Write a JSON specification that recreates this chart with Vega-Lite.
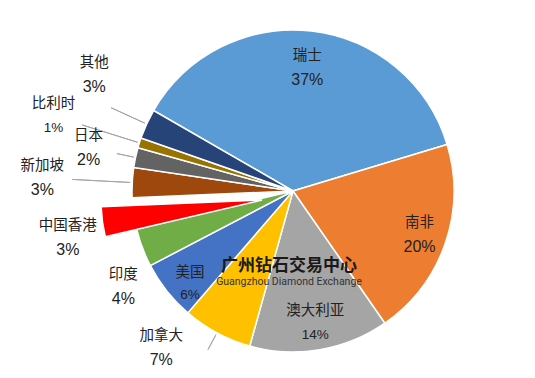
{
  "$schema": "https://vega.github.io/schema/vega-lite/v6.json",
  "width": 484,
  "height": 376,
  "autosize": "none",
  "padding": {"left": 51, "top": 3, "right": 0, "bottom": 0},
  "background": "white",
  "config": {"view": {"stroke": null}},
  "title": {
    "text": "广州钻石交易中心",
    "subtitle": "Guangzhou Diamond Exchange",
    "orient": "bottom",
    "anchor": "middle",
    "offset": -121,
    "dx": -4,
    "font": "Noto Sans CJK SC",
    "fontSize": 17,
    "fontWeight": "bold",
    "color": "#1a1a1a",
    "subtitleFont": "Roboto",
    "subtitleFontSize": 10.5,
    "subtitleColor": "#333333",
    "subtitlePadding": 2
  },
  "data": {
    "values": [
      {"country": "瑞士", "value": 37},
      {"country": "南非", "value": 20},
      {"country": "澳大利亚", "value": 14},
      {"country": "加拿大", "value": 7},
      {"country": "美国", "value": 6},
      {"country": "印度", "value": 4},
      {"country": "中国香港", "value": 3},
      {"country": "新加坡", "value": 3},
      {"country": "日本", "value": 2},
      {"country": "比利时", "value": 1},
      {"country": "其他", "value": 3}
    ]
  },
  "transform": [
    {"window": [{"op": "sum", "field": "value", "as": "cum"}], "frame": [null, 0]},
    {"calculate": "datum.cum - datum.value", "as": "start"},
    {"calculate": "datum.cum - datum.value / 2", "as": "mid"},
    {"calculate": "datum.value + '%'", "as": "pct"}
  ],
  "layer": [
    {
      "transform": [{"filter": "datum.country !== '中国香港'"}],
      "mark": {"type": "arc", "radius": 161, "stroke": "white", "strokeWidth": 1.5},
      "encoding": {
        "theta": {"field": "start", "type": "quantitative", "stack": null, "scale": {"domain": [0, 100], "range": [-1.0471976, 5.2359878]}},
        "theta2": {"field": "cum"},
        "color": {
          "field": "country", "type": "nominal", "legend": null,
          "scale": {
            "domain": ["瑞士", "南非", "澳大利亚", "加拿大", "美国", "印度", "中国香港", "新加坡", "日本", "比利时", "其他"],
            "range": ["#5B9BD5", "#ED7D31", "#A5A5A5", "#FFC000", "#4472C4", "#70AD47", "#FF0000", "#9E480E", "#636363", "#997300", "#264478"]
          }
        }
      }
    },
    {
      "transform": [{"filter": "datum.country === '中国香港'"}],
      "mark": {"type": "arc", "radius": 161, "stroke": "white", "strokeWidth": 1.5, "xOffset": -31, "yOffset": 9},
      "encoding": {
        "theta": {"field": "start", "type": "quantitative", "stack": null},
        "theta2": {"field": "cum"},
        "color": {"field": "country", "type": "nominal", "legend": null}
      }
    },
    {
      "transform": [{"filter": "indexof(['比利时','新加坡'], datum.country) >= 0"}],
      "mark": {"type": "arc", "radius": 221, "radius2": 163, "stroke": "#A6A6A6", "strokeWidth": 1, "fillOpacity": 0},
      "encoding": {
        "theta": {"field": "mid", "type": "quantitative", "stack": null},
        "theta2": {"field": "mid"}
      }
    },
    {
      "transform": [{"filter": "datum.country === '其他'"}],
      "mark": {"type": "arc", "radius": 200, "radius2": 163, "stroke": "#A6A6A6", "strokeWidth": 1, "fillOpacity": 0},
      "encoding": {
        "theta": {"field": "mid", "type": "quantitative", "stack": null},
        "theta2": {"field": "mid"}
      }
    },
    {
      "transform": [{"filter": "indexof(['日本','加拿大'], datum.country) >= 0"}],
      "mark": {"type": "arc", "radius": 180, "radius2": 163, "stroke": "#A6A6A6", "strokeWidth": 1, "fillOpacity": 0},
      "encoding": {
        "theta": {"field": "mid", "type": "quantitative", "stack": null},
        "theta2": {"field": "mid"}
      }
    },
    {
      "transform": [{"filter": "datum.country === '瑞士'"}],
      "layer": [
        {
          "mark": {"type": "text", "radius": 124, "dy": -12, "font": "Noto Sans CJK SC", "fontSize": 14.5, "fill": "#222222"},
          "encoding": {"theta": {"field": "mid", "type": "quantitative"}, "text": {"field": "country"}}
        },
        {
          "mark": {"type": "text", "radius": 124, "dy": 12, "font": "Liberation Sans", "fontSize": 16, "fill": "#222222"},
          "encoding": {"theta": {"field": "mid", "type": "quantitative"}, "text": {"field": "pct"}}
        }
      ]
    },
    {
      "transform": [{"filter": "indexof(['南非','澳大利亚'], datum.country) >= 0"}],
      "layer": [
        {
          "mark": {"type": "text", "radius": 134, "dy": -12, "font": "Noto Sans CJK SC", "fontSize": 14.5, "fill": "#222222"},
          "encoding": {"theta": {"field": "mid", "type": "quantitative"}, "text": {"field": "country"}}
        },
        {
          "mark": {"type": "text", "radius": 134, "dy": 12, "font": "Liberation Sans", "fill": "#222222"},
          "encoding": {
            "theta": {"field": "mid", "type": "quantitative"},
            "text": {"field": "pct"},
            "size": {"condition": {"test": "datum.country === '澳大利亚'", "value": 13.5}, "value": 16}
          }
        }
      ]
    },
    {
      "transform": [{"filter": "datum.country === '美国'"}],
      "layer": [
        {
          "mark": {"type": "text", "radius": 139, "thetaOffset": -0.065, "dy": -11, "font": "Noto Sans CJK SC", "fontSize": 14.5, "fill": "#222222"},
          "encoding": {"theta": {"field": "mid", "type": "quantitative"}, "text": {"field": "country"}}
        },
        {
          "mark": {"type": "text", "radius": 139, "thetaOffset": -0.065, "dy": 11, "font": "Liberation Sans", "fontSize": 13.5, "fill": "#222222"},
          "encoding": {"theta": {"field": "mid", "type": "quantitative"}, "text": {"field": "pct"}}
        }
      ]
    },
    {
      "transform": [{"filter": "indexof(['比利时','新加坡'], datum.country) >= 0"}],
      "layer": [
        {
          "mark": {"type": "text", "radius": 251, "dy": -12, "font": "Noto Sans CJK SC", "fontSize": 14.5, "fill": "#222222"},
          "encoding": {"theta": {"field": "mid", "type": "quantitative"}, "text": {"field": "country"}}
        },
        {
          "mark": {"type": "text", "radius": 251, "dy": 12, "font": "Liberation Sans", "fill": "#222222"},
          "encoding": {
            "theta": {"field": "mid", "type": "quantitative"},
            "text": {"field": "pct"},
            "size": {"condition": {"test": "datum.country === '比利时'", "value": 13.5}, "value": 16}
          }
        }
      ]
    },
    {
      "transform": [{"filter": "datum.country === '日本'"}],
      "layer": [
        {
          "mark": {"type": "text", "radius": 209, "dy": -12, "font": "Noto Sans CJK SC", "fontSize": 14.5, "fill": "#222222"},
          "encoding": {"theta": {"field": "mid", "type": "quantitative"}, "text": {"field": "country"}}
        },
        {
          "mark": {"type": "text", "radius": 209, "dy": 12, "font": "Liberation Sans", "fontSize": 16, "fill": "#222222"},
          "encoding": {"theta": {"field": "mid", "type": "quantitative"}, "text": {"field": "pct"}}
        }
      ]
    },
    {
      "transform": [{"filter": "datum.country === '其他'"}],
      "layer": [
        {
          "mark": {"type": "text", "radius": 230, "thetaOffset": 0.098, "dy": -12, "font": "Noto Sans CJK SC", "fontSize": 14.5, "fill": "#222222"},
          "encoding": {"theta": {"field": "mid", "type": "quantitative"}, "text": {"field": "country"}}
        },
        {
          "mark": {"type": "text", "radius": 230, "thetaOffset": 0.098, "dy": 12, "font": "Liberation Sans", "fontSize": 16, "fill": "#222222"},
          "encoding": {"theta": {"field": "mid", "type": "quantitative"}, "text": {"field": "pct"}}
        }
      ]
    },
    {
      "transform": [{"filter": "datum.country === '中国香港'"}],
      "layer": [
        {
          "mark": {"type": "text", "radius": 230, "thetaOffset": -0.07, "dy": -12, "font": "Noto Sans CJK SC", "fontSize": 14.5, "fill": "#222222"},
          "encoding": {"theta": {"field": "mid", "type": "quantitative"}, "text": {"field": "country"}}
        },
        {
          "mark": {"type": "text", "radius": 230, "thetaOffset": -0.07, "dy": 12, "font": "Liberation Sans", "fontSize": 16, "fill": "#222222"},
          "encoding": {"theta": {"field": "mid", "type": "quantitative"}, "text": {"field": "pct"}}
        }
      ]
    },
    {
      "transform": [{"filter": "datum.country === '印度'"}],
      "layer": [
        {
          "mark": {"type": "text", "radius": 195, "thetaOffset": -0.159, "dy": -12, "font": "Noto Sans CJK SC", "fontSize": 14.5, "fill": "#222222"},
          "encoding": {"theta": {"field": "mid", "type": "quantitative"}, "text": {"field": "country"}}
        },
        {
          "mark": {"type": "text", "radius": 195, "thetaOffset": -0.159, "dy": 12, "font": "Liberation Sans", "fontSize": 16, "fill": "#222222"},
          "encoding": {"theta": {"field": "mid", "type": "quantitative"}, "text": {"field": "pct"}}
        }
      ]
    },
    {
      "transform": [{"filter": "datum.country === '加拿大'"}],
      "layer": [
        {
          "mark": {"type": "text", "radius": 205, "thetaOffset": 0.206, "dy": -12, "font": "Noto Sans CJK SC", "fontSize": 14.5, "fill": "#222222"},
          "encoding": {"theta": {"field": "mid", "type": "quantitative"}, "text": {"field": "country"}}
        },
        {
          "mark": {"type": "text", "radius": 205, "thetaOffset": 0.206, "dy": 12, "font": "Liberation Sans", "fontSize": 16, "fill": "#222222"},
          "encoding": {"theta": {"field": "mid", "type": "quantitative"}, "text": {"field": "pct"}}
        }
      ]
    }
  ]
}
